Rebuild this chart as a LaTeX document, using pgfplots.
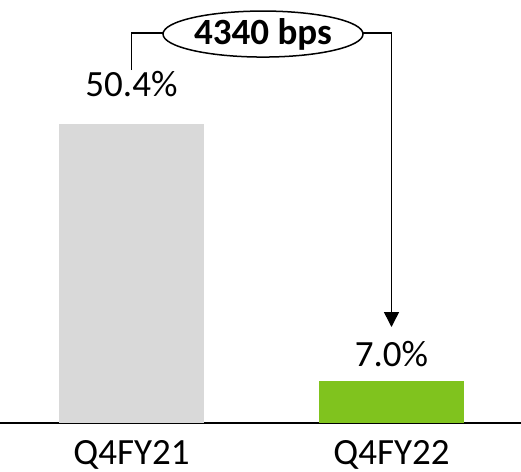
\documentclass[border=0pt]{standalone}
\usepackage{pgfplots}
\pgfplotsset{compat=1.18}
\usepackage{fontspec}
\setmainfont{Carlito}
\usetikzlibrary{shapes.geometric,arrows.meta}
\definecolor{barGray}{RGB}{217,217,217}
\definecolor{barGreen}{RGB}{128,195,30}
\begin{document}
\begin{tikzpicture}
\useasboundingbox (0,-49bp) rectangle (521bp,423bp);
\begin{axis}[
  scale only axis,
  width=521bp, height=423bp,
  xmin=-0.5058, xmax=1.4981,
  ymin=0, ymax=71.3,
  axis y line=none,
  axis x line=bottom,
  x axis line style={-, line width=1.3bp, black},
  xtick={0,1},
  xticklabels={Q4FY21,Q4FY22},
  major tick length=0pt,
  xticklabel style={anchor=base, yshift=-41bp, font=\fontsize{37bp}{44bp}\selectfont},
  /pgf/number format/assume math mode=true,
  ybar, bar width=145bp,
  clip=false,
]
\addplot[draw=none, fill=barGray, bar shift=0pt] coordinates {(0,50.4)};
\addplot[draw=none, fill=barGreen, bar shift=0pt] coordinates {(1,7.0)};
\node[anchor=base, font=\fontsize{37bp}{44bp}\selectfont, inner sep=0pt] at (axis cs:0,54.95) {50.4\%};
\node[anchor=base, font=\fontsize{37bp}{44bp}\selectfont, inner sep=0pt] at (axis cs:1,9.44) {7.0\%};
\draw[line width=1.5bp] (axis cs:0,59.5) -- (axis cs:0,65.73) -- (axis cs:0.1212,65.73);
\node[draw, ellipse, line width=1.5bp, minimum width=200bp, minimum height=46bp, inner sep=0pt,
      font=\fontsize{37bp}{44bp}\selectfont\bfseries] at (axis cs:0.5058,65.56) {4340 bps};
\draw[line width=1.5bp, -{Triangle[length=15bp, width=15bp]}] (axis cs:0.890,65.73) -- (axis cs:1.0,65.73) -- (axis cs:1.0,16.18);
\end{axis}
\end{tikzpicture}
\end{document}
